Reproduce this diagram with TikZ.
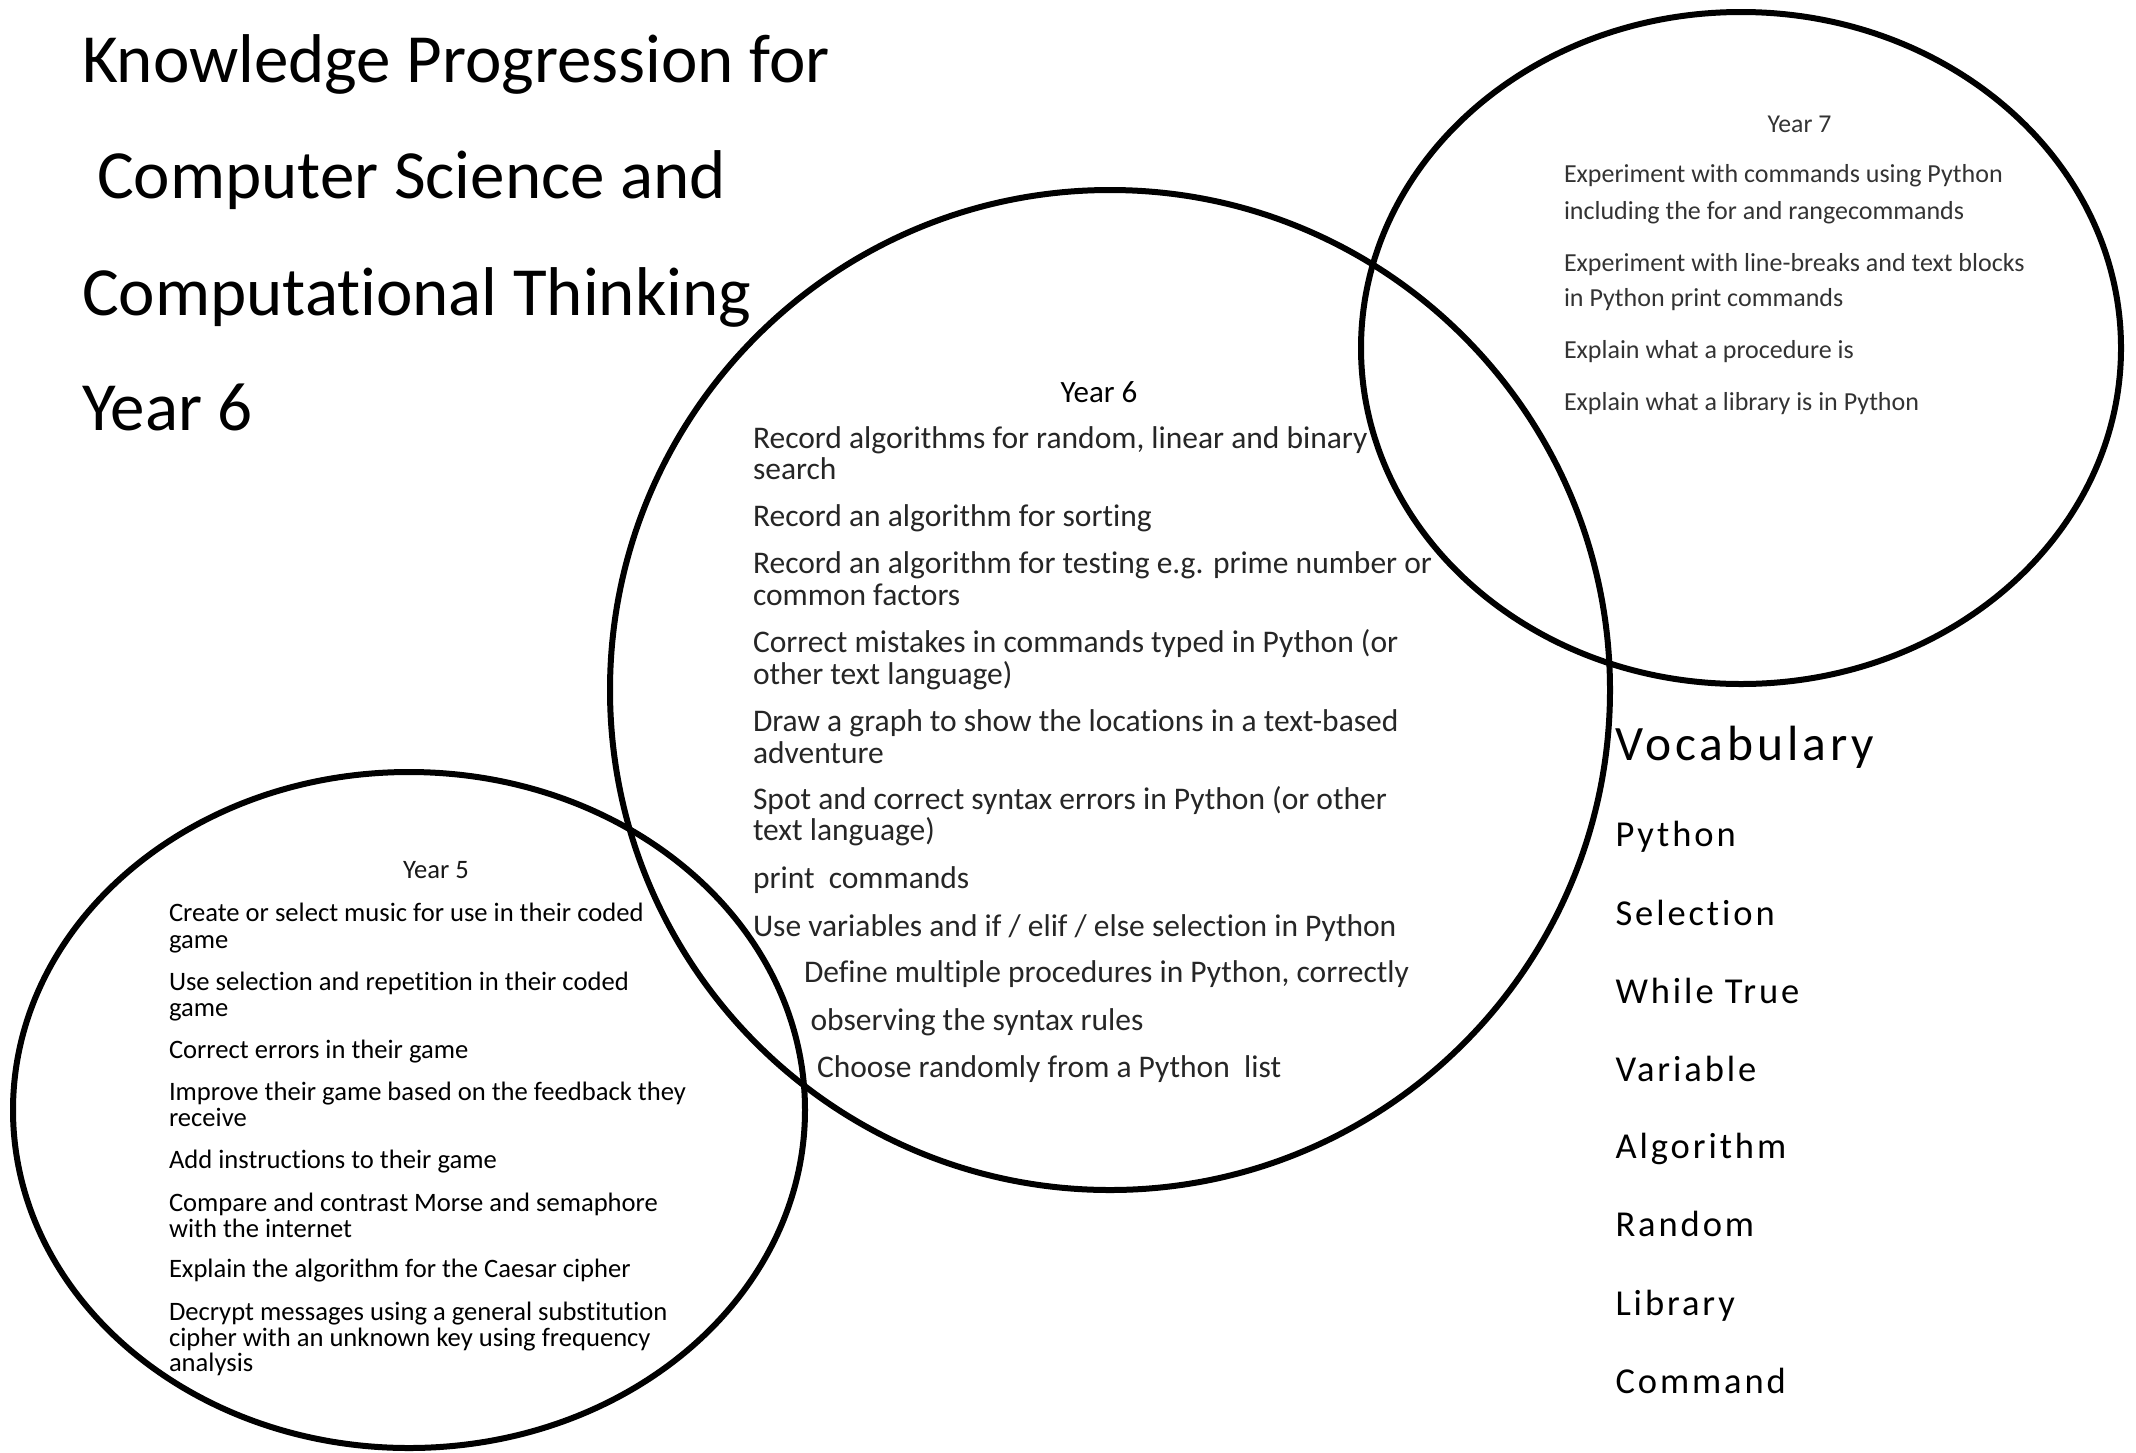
\documentclass[tikz,border=0pt]{standalone}
\usepackage{fontspec}
\setmainfont[Ligatures={CommonOff,ContextualOff}]{Carlito}
\newfontfamily\vocabfont[LetterSpace=8,Ligatures={CommonOff,ContextualOff}]{Carlito}
% keeps "t" and "i" as separate glyphs
\newcommand{\sep}{\kern0pt}
\begin{document}
\begin{tikzpicture}[x=1pt,y=-1pt,
  ring/.style={line width=6pt,draw=black},
  lbl/.style={anchor=base west,inner sep=0pt,outer sep=0pt},
  hd/.style={anchor=base,inner sep=0pt,outer sep=0pt},
  titletext/.style={lbl,font=\fontsize{69}{69}\selectfont},
  sixtext/.style={lbl,text=black!85,font=\fontsize{31.5}{31.5}\selectfont},
  sixhead/.style={hd,font=\fontsize{31}{31}\selectfont},
  seventext/.style={lbl,text=black!80,font=\fontsize{26}{26}\selectfont},
  sevenhead/.style={hd,text=black!80,font=\fontsize{25.7}{25.7}\selectfont},
  fivetext/.style={lbl,font=\fontsize{26.6}{26.6}\selectfont},
  fivehead/.style={hd,text=black!90,font=\fontsize{26.6}{26.6}\selectfont},
  vocabhead/.style={lbl,font=\vocabfont\fontsize{49.5}{49.5}\selectfont},
  vocabword/.style={lbl,font=\vocabfont\fontsize{36.5}{36.5}\selectfont}]

\useasboundingbox[fill=white] (0,0) rectangle (2136,1452);

% the three overlapping year sets
\draw[ring] (1110,690) circle[radius=500];
\draw[ring] (1741,348) ellipse[x radius=380,y radius=336];
\draw[ring] (409,1110) ellipse[x radius=396,y radius=338];

% heading
\node[titletext] (t1) at (82,82)  {Knowledge Progression for};
\node[titletext] (t2) at (97,198) {Computer Science and};
\node[titletext] (t3) at (82,315) {Computat\sep ional Thinking};
\node[titletext] (t4) at (82,430) {Year 6};

% Year 6
\node[sixhead]  (y6)  at (1099,402) {Year 6};
\node[sixtext]  (y6a) at (753,448)   {Record algorithms for random, linear and binary};
\node[sixtext]  (y6b) at (753,479.5) {search};
\node[sixtext]  (y6c) at (753,526)   {Record an algorithm for sort\sep ing};
\node[sixtext]  (y6d) at (753,573.5) {Record an algorithm for test\sep ing e.g. prime number or};
\node[sixtext]  (y6e) at (753,605)   {common factors};
\node[sixtext]  (y6f) at (753,652.5) {Correct mistakes in commands typed in Python (or};
\node[sixtext]  (y6g) at (753,684)   {other text language)};
\node[sixtext]  (y6h) at (753,731.5) {Draw a graph to show the locat\sep ions in a text-based};
\node[sixtext]  (y6i) at (753,763)   {adventure};
\node[sixtext]  (y6j) at (753,809)   {Spot and correct syntax errors in Python (or other};
\node[sixtext]  (y6k) at (753,840.5) {text language)};
\node[sixtext]  (y6l) at (753,888)   {print\ \ commands};
\node[sixtext]  (y6m) at (753,936)   {Use variables and if / elif / else select\sep ion in Python};
\node[sixtext]  (y6n) at (804,982)   {Define mult\sep iple procedures in Python, correctly};
\node[sixtext]  (y6o) at (810.5,1030) {observing the syntax rules};
\node[sixtext]  (y6p) at (817,1077.5) {Choose randomly from a Python\ \ list};

% Year 7
\node[sevenhead] (y7)  at (1799.5,132) {Year 7};
\node[seventext] (y7a) at (1564,182.5) {Experiment with commands using Python};
\node[seventext] (y7b) at (1564,219)   {including the for and rangecommands};
\node[seventext] (y7c) at (1564,271)   {Experiment with line-breaks and text blocks};
\node[seventext] (y7d) at (1564,306.5) {in Python print commands};
\node[seventext] (y7e) at (1564,358)   {Explain what a procedure is};
\node[seventext] (y7f) at (1564,410)   {Explain what a library is in Python};

% Year 5
\node[fivehead] (y5)  at (436,878.6) {Year 5};
\node[fivetext] (y5a) at (169,921)    {Create or select music for use in their coded};
\node[fivetext] (y5b) at (169,948)    {game};
\node[fivetext] (y5c) at (169,990)    {Use select\sep ion and repet\sep it\sep ion in their coded};
\node[fivetext] (y5d) at (169,1016)   {game};
\node[fivetext] (y5e) at (169,1058)   {Correct errors in their game};
\node[fivetext] (y5f) at (169,1100.7) {Improve their game based on the feedback they};
\node[fivetext] (y5g) at (169,1126.5) {receive};
\node[fivetext] (y5h) at (169,1168.8) {Add instruct\sep ions to their game};
\node[fivetext] (y5i) at (169,1211)   {Compare and contrast Morse and semaphore};
\node[fivetext] (y5j) at (169,1237)   {with the internet};
\node[fivetext] (y5k) at (169,1277.7) {Explain the algorithm for the Caesar cipher};
\node[fivetext] (y5l) at (169,1320)   {Decrypt messages using a general subst\sep itut\sep ion};
\node[fivetext] (y5m) at (169,1346)   {cipher with an unknown key using frequency};
\node[fivetext] (y5n) at (169,1371.7) {analysis};

% vocabulary list
\node[vocabhead] (voc) at (1615.5,760)  {Vocabulary};
\node[vocabword] (v1)  at (1615.5,846.6) {Python};
\node[vocabword] (v2)  at (1615.5,925.6) {Selection};
\node[vocabword] (v3)  at (1615.5,1003)  {While True};
\node[vocabword] (v4)  at (1615.5,1081)  {Variable};
\node[vocabword] (v5)  at (1615.5,1158.5) {Algorithm};
\node[vocabword] (v6)  at (1615.5,1236)  {Random};
\node[vocabword] (v7)  at (1615.5,1315)  {Library};
\node[vocabword] (v8)  at (1615.5,1393)  {Command};
\end{tikzpicture}
\end{document}
